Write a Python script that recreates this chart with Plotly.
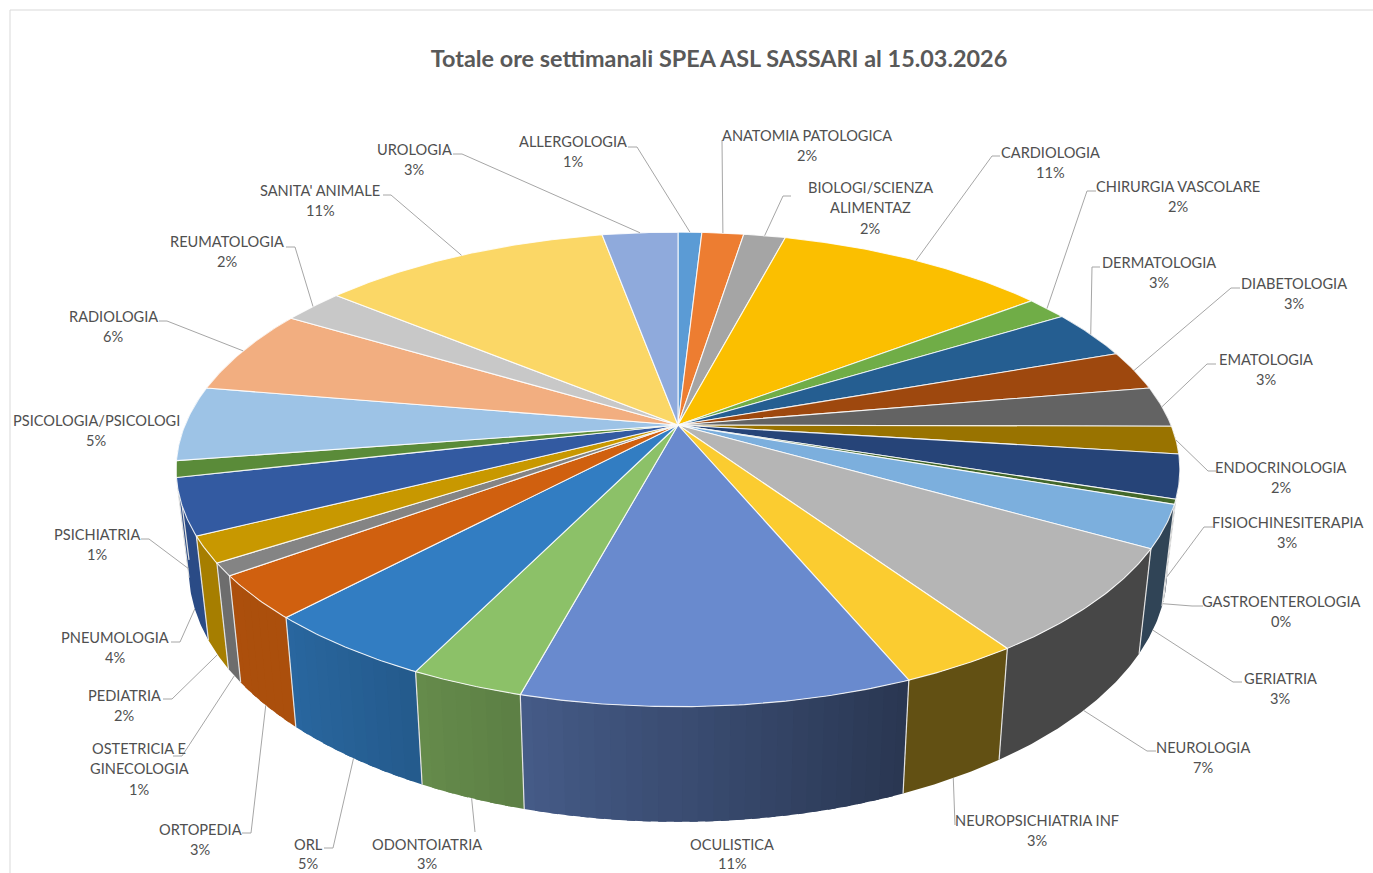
import math
import plotly.graph_objects as go

TITLE = "Totale ore settimanali SPEA ASL SASSARI al 15.03.2026"
categories = ["ALLERGOLOGIA", "ANATOMIA PATOLOGICA", "BIOLOGI/SCIENZA<br>ALIMENTAZ", "CARDIOLOGIA",
              "CHIRURGIA VASCOLARE", "DERMATOLOGIA", "DIABETOLOGIA", "EMATOLOGIA", "ENDOCRINOLOGIA",
              "FISIOCHINESITERAPIA", "GASTROENTEROLOGIA", "GERIATRIA", "NEUROLOGIA", "NEUROPSICHIATRIA INF",
              "OCULISTICA", "ODONTOIATRIA", "ORL", "ORTOPEDIA", "OSTETRICIA E<br>GINECOLOGIA", "PEDIATRIA",
              "PNEUMOLOGIA", "PSICHIATRIA", "PSICOLOGIA/PSICOLOGI", "RADIOLOGIA", "REUMATOLOGIA",
              "SANITA' ANIMALE", "UROLOGIA"]
# share of each slice (slice angle in degrees)
values = [3.3, 5.8, 5.8, 38.0, 5.8, 12.0, 9.7, 9.9, 6.8, 10.7, 1.2, 10.4, 26.2, 11.6, 38.0, 11.1,
          17.1, 10.7, 3.1, 6.4, 13.7, 4.0, 18.3, 21.1, 8.5, 40.3, 10.5]
colors = ["#5B9BD5", "#ED7D31", "#A5A5A5", "#FBBF00", "#70AD47", "#255E91", "#9E480E", "#636363", "#997300",
          "#264478", "#43682B", "#7CAFDD", "#B5B5B5", "#FBCC30", "#698ACE", "#8CC168", "#327DC2", "#D0600F",
          "#848484", "#C89800", "#335AA1", "#5A8B39", "#9DC3E6", "#F2AE80", "#C8C8C8", "#FBD766", "#8FAADC"]

# label centre of the first text line
label_pos = [(573, 141), (807, 135), (870, 187), (1050, 152), (1178, 186), (1159, 262), (1294, 283), (1266, 359),
             (1281, 467), (1287, 522), (1281, 601), (1280, 678), (1203, 747), (1037, 820), (732, 844), (427, 844),
             (308, 844), (200, 829), (139, 748), (124, 695), (115, 637), (97, 534), (96, 420), (113, 316),
             (227, 241), (320, 190), (414, 149)]
# leader start and elbow (the far end is computed from the slice)
leaders = [[(628, 147), (637, 147)], [(722, 140)], [(791, 196), (783, 196)], [(1000, 156), (992, 156)],
           [(1096, 191), (1087, 191)], [(1100, 267), (1092, 267)], [(1240, 288), (1231, 288)],
           [(1216, 364), (1207, 364)], [(1216, 471), (1208, 471)], [(1213, 527), (1204, 527)],
           [(1203, 606), (1192, 606)], [(1242, 682), (1233, 682)], [(1156, 751), (1147, 751)], [(955, 825)],
           [], [(475, 832)], [(324, 848), (333, 848)], [(242, 833), (251, 833)], [(173, 756), (182, 756)],
           [(163, 699), (172, 699)], [(171, 642), (180, 642)], [(141, 539), (149, 539)], [],
           [(159, 321), (167, 321)], [(286, 247), (295, 247)], [(383, 195), (391, 195)], [(453, 154), (462, 154)]]

W, H = 1373, 873
CX, CY, A, B, K = 678, 425, 493, 229, 0.187
FONT = "Lato"
total = sum(values)


def top(t):
    r = math.radians(t)
    u, v = math.sin(r), -math.cos(r)
    w = 1 - K * v
    return CX + A * u / w, CY + B * v / w


def bottom(t):
    x, y = top(t)
    return CX + 0.975 * (x - CX), y + 105 + (y - 550) * 0.065


def shade(t):
    stops = [(0, .39), (157, .39), (195, .66), (223, .82), (240, .83), (360, .83)]
    for (a, fa), (b, fb) in zip(stops, stops[1:]):
        if a <= t <= b:
            return fa + (fb - fa) * (t - a) / (b - a)
    return .83


def scaled(hex_color, f):
    r, g, b = (int(hex_color[i:i + 2], 16) for i in (1, 3, 5))
    return f"rgb({r * f:.0f},{g * f:.0f},{b * f:.0f})"


def arc(a, b, step=0.5):
    n = max(2, int((b - a) / step) + 1)
    return [a + (b - a) * i / (n - 1) for i in range(n)]


edges = [0.0]
for v in values:
    edges.append(edges[-1] + v * 360 / total)

fig = go.Figure()

# side wall, back to front; strips overlap slightly so no seams show
side = []
for i, c in enumerate(colors):
    a, b = edges[i], edges[i + 1]
    lo, hi = max(a, 60), min(b, 300)
    if lo >= hi:
        continue
    grad = hi > 158 and lo < 225
    n = max(1, int((hi - lo) / 1.5)) if grad else 1
    for j in range(n):
        s, e = lo + (hi - lo) * j / n, lo + (hi - lo) * (j + 1) / n
        side.append((abs((s + e) / 2 - 180), s, e, c, lo, hi))
side.sort(key=lambda q: -q[0])
for _, s, e, c, lo, hi in side:
    ts = arc(max(lo, s - 0.4), min(hi, e + 0.4))
    pts = [top(t) for t in ts] + [bottom(t) for t in reversed(ts)]
    col = scaled(c, shade((s + e) / 2))
    fig.add_trace(go.Scatter(x=[p[0] for p in pts] + [pts[0][0]], y=[p[1] for p in pts] + [pts[0][1]],
                             mode="lines", fill="toself", fillcolor=col, line=dict(color=col, width=0),
                             hoverinfo="skip", showlegend=False))

# light seams between side faces
for t in edges[1:-1]:
    if 100 < t < 262:
        p, q = top(t), bottom(t)
        fig.add_trace(go.Scatter(x=[p[0], q[0]], y=[p[1], q[1]], mode="lines",
                                 line=dict(color="#E3E3E3", width=1.2), hoverinfo="skip", showlegend=False))

# top face
for i, (name, c) in enumerate(zip(categories, colors)):
    pts = [(CX, CY)] + [top(t) for t in arc(edges[i], edges[i + 1])] + [(CX, CY)]
    fig.add_trace(go.Scatter(x=[p[0] for p in pts], y=[p[1] for p in pts], mode="lines", fill="toself",
                             fillcolor=c, line=dict(color="rgba(255,255,255,0.85)", width=1.1),
                             name=name.replace("<br>", " "), hoverinfo="name", showlegend=False))

# leader lines
for i, elbow in enumerate(leaders):
    if not elbow:
        continue
    mid = (edges[i] + edges[i + 1]) / 2
    end = bottom(mid) if 95 < mid < 262 else top(mid)
    pts = elbow + [end]
    fig.add_trace(go.Scatter(x=[p[0] for p in pts], y=[p[1] for p in pts], mode="lines",
                             line=dict(color="#A6A6A6", width=1), hoverinfo="skip", showlegend=False))

# labels, one annotation per line for exact spacing
ann = []
for name, v, (lx, ly) in zip(categories, values, label_pos):
    lines = name.split("<br>") + [f"{round(v / total * 100)}%"]
    for n, text in enumerate(lines):
        ann.append(dict(x=lx, y=min(ly + n * 20.7, 863.5), xref="x", yref="y", text=text, showarrow=False,
                        xanchor="center", yanchor="middle", font=dict(family=FONT, size=14.6, color="#505050")))

frame = dict(type="path", path=f"M 10 {H} L 10 10 L {W} 10", line=dict(color="#D9D9D9", width=1),
             xref="x", yref="y")

fig.update_layout(
    width=W, height=H, margin=dict(l=0, r=0, t=0, b=0), paper_bgcolor="white", plot_bgcolor="white",
    title=dict(text=f"<b>{TITLE}</b>", x=719 / W, xanchor="center", y=1 - 59 / H, yanchor="middle",
               font=dict(family=FONT, size=23.4, color="#595959")),
    xaxis=dict(range=[0, W], visible=False, fixedrange=True),
    yaxis=dict(range=[H, 0], visible=False, fixedrange=True),
    annotations=ann, shapes=[frame], showlegend=False,
)
fig.write_html("out.html", config={"displayModeBar": False},
               post_script="document.body.style.margin='0';")
